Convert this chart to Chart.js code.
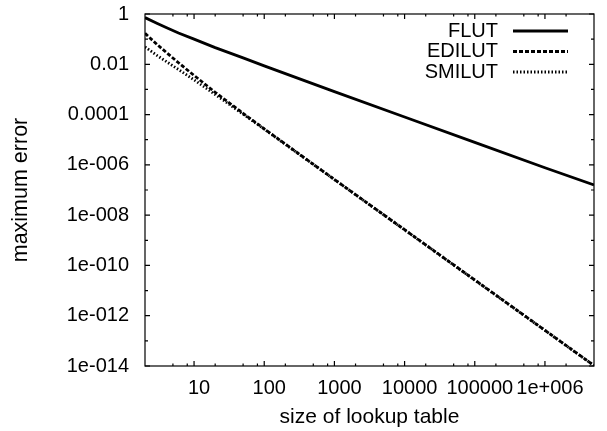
<!DOCTYPE html>
<html>
<head>
<meta charset="utf-8">
<script src="https://cdn.jsdelivr.net/npm/chart.js@4"></script>
<style>
  html, body { margin: 0; padding: 0; background: #fff; }
  #wrap { width: 607px; height: 431px; }
</style>
</head>
<body>
<div id="wrap"><canvas id="c" width="607" height="431"></canvas></div>
<script>
// ── data ─────────────────────────────────────────────────────────────────────
const sizes  = [2, 3, 4, 6, 10, 20, 50, 100, 1000, 10000, 100000, 1000000, 5000000]
const flut   = [0.72, 0.42, 0.29, 0.175, 0.1, 0.046, 0.018, 0.0086, 8.2e-4, 8e-5, 7.8e-6, 7.7e-7, 1.6e-7]
const edilut = [0.17, 0.06, 0.03, 0.0115, 0.0036, 7.7e-4, 1.12e-4, 2.7e-5, 2.63e-7, 2.63e-9, 2.63e-11, 2.63e-13, 1.05e-14]
const smilut = [0.049, 0.022, 0.013, 0.0062, 0.0024, 6.3e-4, 1.04e-4, 2.63e-5, 2.6e-7, 2.6e-9, 2.6e-11, 2.6e-13, 1.04e-14]

const xTickValues = [10, 100, 1000, 10000, 100000, 1000000]
const xTickLabels = ['10', '100', '1000', '10000', '100000', '1e+006']
const yTickValues = [1, 1e-2, 1e-4, 1e-6, 1e-8, 1e-10, 1e-12, 1e-14]
const yTickLabels = ['1', '0.01', '0.0001', '1e-006', '1e-008', '1e-010', '1e-012', '1e-014']
const yMinorValues = [1e-1, 1e-3, 1e-5, 1e-7, 1e-9, 1e-11, 1e-13]
const xMinorSteps  = [2, 5, 8]

const FONT = 'Liberation Sans, Arial, Helvetica, sans-serif'

const series = [
  { label: 'FLUT',   data: flut,   dash: [] },
  { label: 'EDILUT', data: edilut, dash: [4, 2] },
  { label: 'SMILUT', data: smilut, dash: [1.5, 2] },
]

// ── gnuplot-like frame: box, inward ticks on all four sides, key ──────────────
const framePlugin = {
  id: 'frame',
  afterDatasetsDraw(chart) {
    const { ctx, chartArea: a, scales: { x, y } } = chart
    ctx.save()
    ctx.strokeStyle = '#000'
    ctx.lineWidth = 1.2
    ctx.strokeRect(a.left, a.top, a.right - a.left, a.bottom - a.top)

    const vTick = (px, len) => {
      ctx.beginPath()
      ctx.moveTo(px, a.bottom); ctx.lineTo(px, a.bottom - len)
      ctx.moveTo(px, a.top);    ctx.lineTo(px, a.top + len)
      ctx.stroke()
    }
    const hTick = (py, len) => {
      ctx.beginPath()
      ctx.moveTo(a.left, py);  ctx.lineTo(a.left + len, py)
      ctx.moveTo(a.right, py); ctx.lineTo(a.right - len, py)
      ctx.stroke()
    }
    xTickValues.forEach(v => vTick(x.getPixelForValue(v), 5))
    for (let d = 1; d <= 1e6; d *= 10) {
      xMinorSteps.forEach(m => {
        const v = d * m
        if (v > x.min && v < x.max) vTick(x.getPixelForValue(v), 2.5)
      })
    }
    yTickValues.forEach(v => hTick(y.getPixelForValue(v), 5))
    yMinorValues.forEach(v => hTick(y.getPixelForValue(v), 3))

    // key, top right
    ctx.font = `20px ${FONT}`
    ctx.fillStyle = '#000'
    ctx.textAlign = 'right'
    ctx.textBaseline = 'middle'
    series.forEach((s, i) => {
      const ty = 31 + i * 20.5
      ctx.fillText(s.label, 498, ty)
      ctx.beginPath()
      ctx.lineWidth = 2.8
      ctx.setLineDash(s.dash)
      ctx.moveTo(513, ty); ctx.lineTo(568, ty)
      ctx.stroke()
      ctx.setLineDash([])
    })
    ctx.restore()
  },
}

new Chart(document.getElementById('c'), {
  type: 'line',
  plugins: [framePlugin],
  data: {
    datasets: series.map(s => ({
      label: s.label,
      data: sizes.map((v, i) => ({ x: v, y: s.data[i] })),
      borderColor: '#000',
      borderWidth: 2.8,
      borderDash: s.dash,
      pointRadius: 0,
      tension: 0,
      fill: false,
    })),
  },
  options: {
    responsive: false,
    animation: false,
    devicePixelRatio: 1,
    layout: { padding: { left: 0, right: 13, top: 14, bottom: 0 } },
    plugins: { legend: { display: false }, tooltip: { enabled: false } },
    scales: {
      x: {
        type: 'logarithmic',
        min: 2,
        max: 5000000,
        border: { display: false },
        grid: { display: false, drawTicks: false },
        afterBuildTicks: s => { s.ticks = xTickValues.map(v => ({ value: v })) },
        afterFit: s => { s.height = 65; s.paddingLeft = 0; s.paddingRight = 0 },
        ticks: {
          autoSkip: false,
          maxRotation: 0,
          padding: 10,
          labelOffset: 5,
          color: '#000',
          font: { family: FONT, size: 20 },
          callback: (v) => xTickLabels[xTickValues.indexOf(v)] ?? '',
        },
        title: {
          display: true,
          text: 'size of lookup table',
          color: '#000',
          font: { family: FONT, size: 21 },
          padding: { top: 0, bottom: 1.5 },
        },
      },
      y: {
        type: 'logarithmic',
        min: 1e-14,
        max: 1,
        border: { display: false },
        grid: { display: false, drawTicks: false },
        afterBuildTicks: s => { s.ticks = yTickValues.map(v => ({ value: v })) },
        // keep the plot box where gnuplot put it: no extra room for the "1" label
        afterFit: s => { s.width = 145; s.paddingTop = 0; s.paddingBottom = 0 },
        ticks: {
          autoSkip: false,
          padding: 16,
          color: '#000',
          font: { family: FONT, size: 20 },
          callback: (v) => yTickLabels[yTickValues.indexOf(v)] ?? '',
        },
        title: {
          display: true,
          text: 'maximum error',
          color: '#000',
          font: { family: FONT, size: 21.5 },
          padding: { top: 8.5, bottom: 0 },
        },
      },
    },
  },
})
</script>
</body>
</html>
